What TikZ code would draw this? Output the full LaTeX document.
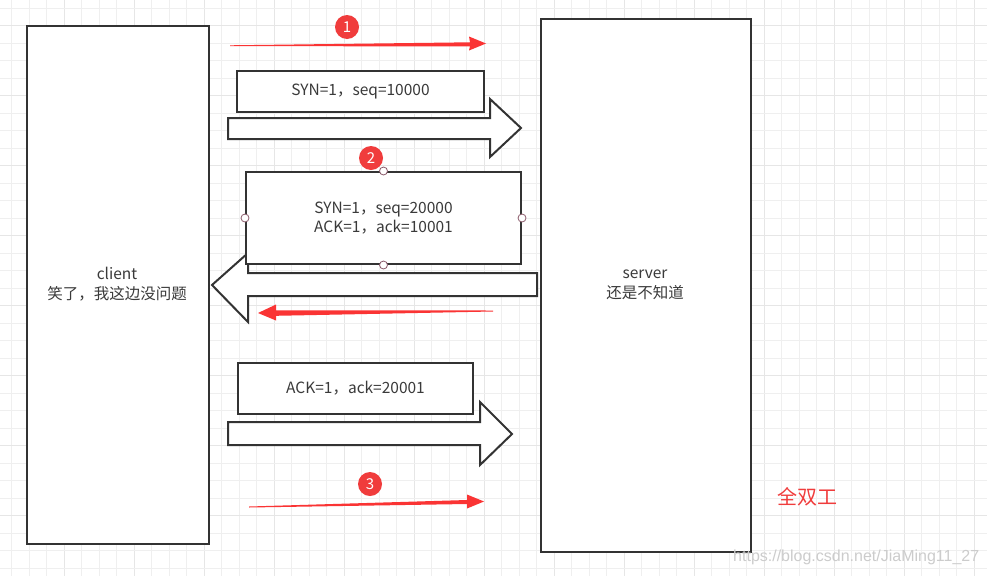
\documentclass[tikz,border=0pt]{standalone}
\usepackage{fontspec}
\setmainfont{Noto Sans CJK SC}
\newfontfamily\wmfont{Liberation Sans}
\definecolor{ink}{HTML}{333333}
\definecolor{txt}{HTML}{3A3A3A}
\definecolor{gridc}{HTML}{EFEFEF}
\definecolor{gridd}{HTML}{E6E6E6}
\definecolor{redc}{HTML}{F03C3C}
\definecolor{redarr}{HTML}{FA3434}
\definecolor{handle}{HTML}{8A5A6A}
\tikzset{
  boxstyle/.style={draw=ink, line width=2pt, fill=white},
  blockarrow/.style={draw=ink, line width=2pt, fill=white, line join=miter},
  lbl/.style={text=txt, font=\fontsize{15.5}{19.5}\selectfont, align=center, inner sep=0pt},
  numcirc/.style={circle, fill=redc, text=white, minimum size=24pt, inner sep=0pt, font=\fontsize{15}{15}\selectfont},
  handlestyle/.style={circle, draw=handle, fill=white, line width=0.8pt, minimum size=8pt, inner sep=0pt},
  redarrow/.style={fill=redarr, draw=none},
}
\begin{document}
\begin{tikzpicture}[x=1pt,y=-1pt]
\useasboundingbox (0,0) rectangle (987,576);
\fill[white] (0,0) rectangle (987,576);
% grid
\foreach \i in {0,...,56} {
  \pgfmathsetmacro\gx{11.7+17.5*\i}
  \pgfmathtruncatemacro\m{mod(\i,4)}
  \ifnum\m=3 \draw[gridd, line width=1.2pt] (\gx,0) -- (\gx,576); \else \draw[gridc, line width=0.8pt] (\gx,0) -- (\gx,576); \fi
}
\foreach \i in {0,...,32} {
  \pgfmathsetmacro\gy{8.3+17.5*\i}
  \pgfmathtruncatemacro\m{mod(\i,4)}
  \ifnum\m=1 \draw[gridd, line width=1.2pt] (0,\gy) -- (987,\gy); \else \draw[gridc, line width=0.8pt] (0,\gy) -- (987,\gy); \fi
}

% client and server
\node[boxstyle, minimum width=182pt, minimum height=518pt, anchor=north west] (client) at (26,25) {};
\node[lbl] (clienttxt) at (117,284) {client\\笑了，我这边没问题};
\node[boxstyle, minimum width=210pt, minimum height=533pt, anchor=north west] (server) at (540,18) {};
\node[lbl] (servertxt) at (645,285) {server\\还是不知道};

% step 1
\fill[redarrow] (230,45.3) -- (470,42.3) -- (469,36.5) -- (486,43.5) -- (469,50.5) -- (470,46.3) -- (230,46.2) -- cycle;
\node[numcirc] (n1) at (347,27) {1};
\node[boxstyle, minimum width=247pt, minimum height=41pt, anchor=north west] (m1) at (236,70) {};
\node[lbl] at (m1) {SYN=1，seq=10000};
\draw[blockarrow] (228,118) -- (490,118) -- (490,99) -- (521,128) -- (490,157) -- (490,139) -- (228,139) -- cycle;

% step 2
\draw[blockarrow] (537,273) -- (248,273) -- (248,253) -- (212,285) -- (248,322) -- (248,296) -- (537,296) -- cycle;
\node[boxstyle, minimum width=275pt, minimum height=92pt, anchor=north west] (m2) at (245,171) {};
\node[lbl] at (m2) {SYN=1，seq=20000\\ACK=1，ack=10001};
\node[numcirc] (n2) at (371,158) {2};
\node[handlestyle] (h1) at (m2.north) {};
\node[handlestyle] (h2) at (m2.south) {};
\node[handlestyle] (h3) at (m2.west) {};
\node[handlestyle] (h4) at (m2.east) {};
\fill[redarrow] (493,310.5) -- (276,310.3) -- (276,304.5) -- (258,313) -- (276,320.5) -- (276,315.8) -- (493,311.5) -- cycle;

% step 3
\node[boxstyle, minimum width=235pt, minimum height=51pt, anchor=north west] (m3) at (237,362) {};
\node[lbl] at (m3) {ACK=1，ack=20001};
\draw[blockarrow] (228,422) -- (480,422) -- (480,402) -- (512,434) -- (480,465) -- (480,445) -- (228,445) -- cycle;
\node[numcirc] (n3) at (370,484) {3};
\fill[redarrow] (249,506.5) -- (467,500) -- (467,494.5) -- (484,501.5) -- (467,508.5) -- (467,504) -- (249,507.5) -- cycle;

\node[text=redc, font=\fontsize{20}{22}\selectfont, inner sep=0pt] (fdx) at (807,497) {全双工};
\node[text=gray!40, font=\wmfont\fontsize{16}{16}\selectfont, inner sep=0pt, anchor=west] (wm) at (733,557) {https://blog.csdn.net/JiaMing11\_27};
\end{tikzpicture}
\end{document}
